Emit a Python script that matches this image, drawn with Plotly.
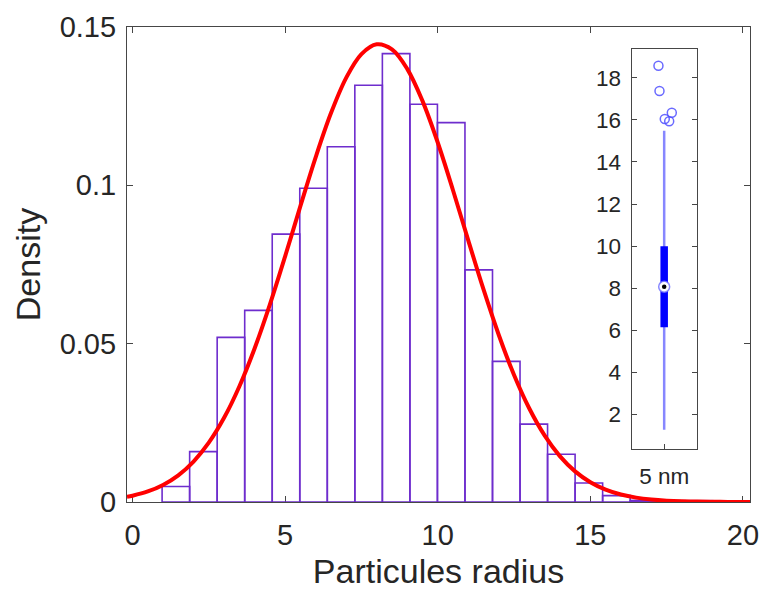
import plotly.graph_objects as go

# ---------------- data ----------------
bin_start = 0.97
bin_width = 0.902
densities = [0.0049, 0.0159, 0.0520, 0.0605, 0.0846, 0.0991, 0.1122, 0.1316,
             0.1416, 0.1256, 0.1198, 0.0733, 0.0444, 0.0246, 0.0151, 0.0060,
             0.0020, 0.0005, 0.0004, 0.0004]

fit_x = [-0.18, 0, 0.5, 1, 1.5, 2, 2.5, 3, 3.5, 4, 4.5, 5, 5.5, 6, 6.5, 7, 7.5,
         8, 8.5, 9, 9.5, 10, 10.5, 11, 11.5, 12, 12.5, 13, 13.5, 14, 14.5, 15,
         15.5, 16, 16.5, 17, 17.5, 18, 18.5, 19, 19.5, 20, 20.23]
fit_y = [0.00164, 0.00199, 0.00333, 0.00539, 0.00843, 0.01278, 0.01873, 0.02658,
         0.03649, 0.04848, 0.06234, 0.07758, 0.09342, 0.10885, 0.12274, 0.13394,
         0.14144, 0.14454, 0.14294, 0.13679, 0.12667, 0.11352, 0.09845, 0.08263,
         0.06711, 0.05274, 0.04011, 0.02952, 0.02103, 0.01449, 0.00967, 0.00624,
         0.00390, 0.00236, 0.00138, 0.00078, 0.00043, 0.00023, 0.00012, 0.00006,
         0.00003, 0.00001, 0.00001]

box_label = "5 nm"
whisker_low = 1.27
q1 = 6.15
median = 8.07
q3 = 10.0
whisker_high = 15.48
outliers_x = [0.912, 0.928, 1.117, 1.009, 1.077]
outliers_y = [18.57, 17.37, 16.34, 16.04, 15.94]

x_ticks = [0, 5, 10, 15, 20]
y_ticks = [0, 0.05, 0.1, 0.15]
inset_y_ticks = [2, 4, 6, 8, 10, 12, 14, 16, 18]

# ---------------- figure ----------------
bin_centers = [bin_start + bin_width * (i + 0.5) for i in range(len(densities))]

AX = "rgb(70,70,70)"
TXT = "rgb(38,38,38)"
FONT = "Liberation Sans, Arial, sans-serif"
PURPLE = "rgb(110,45,205)"

fig = go.Figure()

fig.add_trace(go.Bar(
    x=bin_centers, y=densities, width=bin_width,
    marker=dict(color="rgba(255,255,255,0)", line=dict(color=PURPLE, width=1.6)),
    xaxis="x", yaxis="y", hoverinfo="x+y",
))
fig.add_trace(go.Scatter(
    x=fit_x, y=fit_y, mode="lines", line=dict(color="rgb(255,0,0)", width=4, shape="spline"),
    xaxis="x", yaxis="y",
))

# inset box plot (compact style)
fig.add_trace(go.Scatter(
    x=[1, 1], y=[whisker_low, whisker_high], mode="lines",
    line=dict(color="rgba(70,70,255,0.65)", width=2.5), xaxis="x2", yaxis="y2",
))
fig.add_trace(go.Scatter(
    x=[1, 1], y=[q1, q3], mode="lines",
    line=dict(color="rgb(0,0,255)", width=7.5), xaxis="x2", yaxis="y2",
))
fig.add_trace(go.Scatter(
    x=[1], y=[median], mode="markers",
    marker=dict(symbol="circle", size=11, color="white",
                line=dict(color="rgba(110,110,255,0.8)", width=1.5)),
    xaxis="x2", yaxis="y2",
))
fig.add_trace(go.Scatter(
    x=[1], y=[median], mode="markers",
    marker=dict(symbol="circle", size=4.5, color="black"),
    xaxis="x2", yaxis="y2",
))
fig.add_trace(go.Scatter(
    x=outliers_x, y=outliers_y, mode="markers",
    marker=dict(symbol="circle-open", size=9, color="rgba(80,80,255,0.85)",
                line=dict(width=1.5)),
    xaxis="x2", yaxis="y2",
))

fig.update_layout(
    width=762, height=594,
    margin=dict(l=127, r=12, t=27, b=92, autoexpand=False),
    paper_bgcolor="white", plot_bgcolor="white",
    showlegend=False,
    font=dict(family=FONT, color=TXT),
    xaxis=dict(
        range=[-0.18, 20.23], tickvals=x_ticks, ticks="inside", ticklen=6,
        tickcolor=AX, showline=True, linecolor=AX, linewidth=1.2, mirror="ticks",
        showgrid=False, zeroline=False, tickfont=dict(size=29, color=TXT),
        title=dict(text="Particules radius", font=dict(size=34, color=TXT), standoff=9),
        layer="below traces", ticklabelstandoff=7, automargin=False,
    ),
    yaxis=dict(
        range=[0, 0.15], tickvals=y_ticks, ticktext=["0", "0.05", "0.1", "0.15"],
        ticks="inside", ticklen=6,
        tickcolor=AX, showline=True, linecolor=AX, linewidth=1.2, mirror="ticks",
        showgrid=False, zeroline=False, tickfont=dict(size=29, color=TXT),
        title=dict(text="Density", font=dict(size=34, color=TXT), standoff=8),
        ticklabelstandoff=4, automargin=False,
    ),
    xaxis2=dict(
        domain=[0.810, 0.9145], anchor="y2", range=[0.5, 1.5],
        tickvals=[1], ticktext=[box_label], ticks="inside", ticklen=5,
        tickcolor=AX, showline=True, linecolor=AX, linewidth=1.2, mirror=True,
        showgrid=False, zeroline=False, tickfont=dict(size=22.5, color=TXT),
        ticklabelstandoff=7, automargin=False,
    ),
    yaxis2=dict(
        domain=[0.1114, 0.9546], anchor="x2", range=[0.356, 19.39],
        tickvals=inset_y_ticks, ticks="inside", ticklen=5,
        tickcolor=AX, showline=True, linecolor=AX, linewidth=1.2, mirror="ticks",
        showgrid=False, zeroline=False, tickfont=dict(size=22.5, color=TXT),
        ticklabelstandoff=5, automargin=False,
    ),
)

fig.write_html("out.html")
